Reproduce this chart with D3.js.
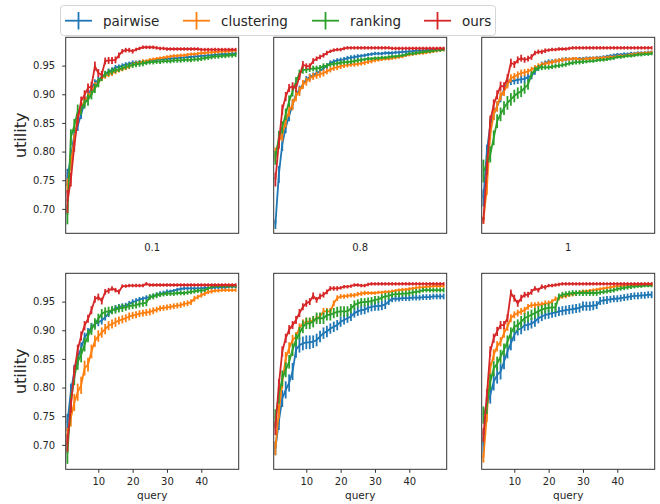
<!DOCTYPE html>
<html>
<head>
<meta charset="utf-8">
<script src="https://cdn.jsdelivr.net/npm/d3@7"></script>
<style>
  body { margin: 0; background: #fff; }
  svg { display: block; font-family: "DejaVu Sans", sans-serif; }
</style>
</head>
<body>
<div id="chart"></div>
<script>
// series names and colours
const methods = ["pairwise", "clustering", "ranking", "ours"];
const colors = ["#1f77b4", "#ff7f0e", "#2ca02c", "#d62728"];

// query index (x values)
const query = [1,2,3,4,5,6,7,8,9,10,11,12,13,14,15,16,17,18,19,20,21,22,23,24,25,
  26,27,28,29,30,31,32,33,34,35,36,37,38,39,40,41,42,43,44,45,46,47,48,49,50];

const panelLabels = ["0.1", "0.8", "1"];
const xTicks = [10, 20, 30, 40];
const yTicks = [0.70, 0.75, 0.80, 0.85, 0.90, 0.95];

// ---- panel 1 (0.1) ----
const p1_pairwise = [0.755,0.790,0.830,0.845,0.865,0.885,0.898,0.910,0.920,0.925,0.930,0.935,0.940,0.942,0.947,0.948,0.950,0.952,0.953,0.955,0.955,0.956,0.957,0.957,0.958,0.959,0.960,0.961,0.961,0.962,0.962,0.963,0.963,0.964,0.964,0.965,0.965,0.966,0.966,0.967,0.967,0.968,0.968,0.969,0.969,0.970,0.970,0.970,0.971,0.971];
const p1_clustering = [0.740,0.780,0.820,0.860,0.875,0.890,0.895,0.905,0.915,0.920,0.928,0.932,0.935,0.937,0.940,0.942,0.944,0.946,0.948,0.952,0.954,0.955,0.957,0.958,0.960,0.961,0.962,0.963,0.964,0.965,0.966,0.967,0.967,0.968,0.968,0.969,0.970,0.970,0.971,0.972,0.972,0.973,0.973,0.974,0.974,0.975,0.975,0.975,0.976,0.976];
const p1_ranking = [0.690,0.825,0.845,0.870,0.875,0.885,0.890,0.900,0.910,0.920,0.930,0.935,0.938,0.940,0.942,0.944,0.946,0.948,0.950,0.951,0.952,0.953,0.954,0.955,0.956,0.956,0.957,0.957,0.958,0.958,0.958,0.959,0.959,0.959,0.960,0.960,0.960,0.961,0.961,0.962,0.963,0.964,0.965,0.966,0.966,0.967,0.967,0.968,0.968,0.969];
const p1_ours = [0.713,0.751,0.810,0.856,0.888,0.899,0.911,0.914,0.949,0.937,0.934,0.958,0.959,0.959,0.960,0.968,0.975,0.977,0.977,0.975,0.978,0.980,0.982,0.982,0.982,0.982,0.981,0.980,0.980,0.979,0.979,0.979,0.979,0.979,0.979,0.979,0.979,0.979,0.979,0.978,0.978,0.978,0.978,0.978,0.978,0.978,0.978,0.978,0.978,0.978];
const p1_pairwise_err = [0.015,0.012,0.010,0.009,0.008,0.007,0.007,0.006,0.006,0.006,0.005,0.005,0.005,0.005,0.004,0.004,0.004,0.004,0.004,0.004,0.004,0.004,0.003,0.003,0.003,0.003,0.003,0.003,0.003,0.003,0.003,0.003,0.003,0.003,0.003,0.003,0.003,0.003,0.003,0.003,0.003,0.003,0.003,0.003,0.003,0.003,0.003,0.003,0.003,0.003];
const p1_clustering_err = [0.012,0.012,0.010,0.009,0.008,0.008,0.007,0.007,0.006,0.006,0.005,0.005,0.005,0.005,0.005,0.004,0.004,0.004,0.004,0.004,0.004,0.004,0.004,0.003,0.003,0.003,0.003,0.003,0.003,0.003,0.003,0.003,0.003,0.003,0.003,0.003,0.003,0.003,0.003,0.003,0.003,0.003,0.003,0.003,0.003,0.003,0.003,0.003,0.003,0.003];
const p1_ranking_err = [0.017,0.014,0.012,0.012,0.011,0.010,0.010,0.009,0.008,0.008,0.007,0.006,0.006,0.006,0.005,0.005,0.005,0.005,0.005,0.005,0.005,0.005,0.005,0.004,0.004,0.004,0.004,0.004,0.004,0.004,0.004,0.004,0.004,0.004,0.004,0.004,0.004,0.004,0.004,0.004,0.004,0.004,0.004,0.004,0.004,0.004,0.004,0.004,0.004,0.004];
const p1_ours_err = [0.020,0.012,0.010,0.009,0.008,0.008,0.008,0.008,0.008,0.007,0.007,0.006,0.006,0.006,0.006,0.005,0.004,0.004,0.004,0.004,0.003,0.003,0.003,0.003,0.003,0.003,0.003,0.003,0.003,0.003,0.003,0.003,0.003,0.003,0.003,0.003,0.003,0.003,0.003,0.003,0.003,0.003,0.003,0.003,0.003,0.003,0.003,0.003,0.003,0.003];

// ---- panel 2 (0.8) ----
const p2_pairwise = [0.673,0.760,0.813,0.842,0.862,0.882,0.900,0.908,0.917,0.926,0.930,0.933,0.937,0.940,0.946,0.949,0.955,0.957,0.959,0.960,0.961,0.963,0.964,0.965,0.966,0.967,0.968,0.969,0.970,0.971,0.971,0.971,0.972,0.972,0.972,0.973,0.973,0.974,0.974,0.975,0.975,0.976,0.976,0.976,0.977,0.977,0.978,0.978,0.979,0.979];
const p2_clustering = [0.795,0.818,0.830,0.853,0.871,0.882,0.897,0.905,0.917,0.922,0.928,0.931,0.933,0.935,0.937,0.940,0.943,0.946,0.947,0.949,0.950,0.951,0.952,0.952,0.953,0.954,0.955,0.957,0.958,0.960,0.960,0.961,0.962,0.962,0.963,0.964,0.965,0.966,0.968,0.969,0.970,0.971,0.972,0.972,0.973,0.974,0.975,0.976,0.977,0.978];
const p2_ranking = [0.789,0.824,0.842,0.865,0.888,0.905,0.922,0.936,0.942,0.943,0.944,0.945,0.945,0.946,0.949,0.950,0.952,0.953,0.954,0.955,0.956,0.956,0.957,0.958,0.959,0.960,0.961,0.962,0.962,0.963,0.963,0.964,0.964,0.965,0.966,0.966,0.967,0.968,0.969,0.971,0.971,0.972,0.973,0.974,0.975,0.975,0.976,0.977,0.977,0.978];
const p2_ours = [0.751,0.815,0.873,0.896,0.911,0.914,0.911,0.931,0.952,0.949,0.949,0.958,0.962,0.965,0.968,0.972,0.975,0.977,0.978,0.978,0.980,0.981,0.981,0.981,0.981,0.981,0.981,0.981,0.981,0.981,0.981,0.981,0.981,0.981,0.980,0.980,0.980,0.980,0.980,0.980,0.980,0.980,0.980,0.980,0.980,0.980,0.980,0.980,0.980,0.980];
const p2_pairwise_err = [0.008,0.015,0.012,0.010,0.009,0.008,0.007,0.007,0.006,0.006,0.006,0.005,0.005,0.005,0.005,0.005,0.004,0.004,0.004,0.004,0.004,0.004,0.004,0.004,0.004,0.003,0.003,0.003,0.003,0.003,0.003,0.003,0.003,0.003,0.003,0.003,0.003,0.003,0.003,0.003,0.003,0.003,0.003,0.003,0.003,0.003,0.003,0.003,0.003,0.003];
const p2_clustering_err = [0.012,0.012,0.012,0.011,0.010,0.010,0.009,0.008,0.008,0.007,0.007,0.006,0.006,0.006,0.006,0.005,0.005,0.005,0.005,0.005,0.004,0.004,0.004,0.004,0.004,0.004,0.004,0.004,0.004,0.004,0.003,0.003,0.003,0.003,0.003,0.003,0.003,0.003,0.003,0.003,0.003,0.003,0.003,0.003,0.003,0.003,0.003,0.003,0.003,0.003];
const p2_ranking_err = [0.012,0.012,0.011,0.010,0.010,0.009,0.008,0.007,0.006,0.006,0.005,0.005,0.005,0.005,0.005,0.004,0.004,0.004,0.004,0.004,0.004,0.004,0.004,0.004,0.004,0.004,0.003,0.003,0.003,0.003,0.003,0.003,0.003,0.003,0.003,0.003,0.003,0.003,0.003,0.003,0.003,0.003,0.003,0.003,0.003,0.003,0.003,0.003,0.003,0.003];
const p2_ours_err = [0.012,0.010,0.009,0.008,0.007,0.007,0.007,0.006,0.006,0.005,0.005,0.005,0.004,0.004,0.004,0.004,0.003,0.003,0.003,0.003,0.003,0.003,0.003,0.003,0.003,0.003,0.003,0.003,0.003,0.003,0.003,0.003,0.003,0.003,0.003,0.003,0.003,0.003,0.003,0.003,0.003,0.003,0.003,0.003,0.003,0.003,0.003,0.003,0.003,0.003];

// ---- panel 3 (1) ----
const p3_pairwise = [0.719,0.800,0.847,0.865,0.879,0.894,0.908,0.920,0.923,0.924,0.925,0.926,0.927,0.930,0.932,0.940,0.946,0.952,0.955,0.957,0.957,0.958,0.959,0.960,0.961,0.961,0.962,0.962,0.962,0.962,0.963,0.963,0.963,0.964,0.964,0.965,0.966,0.967,0.968,0.969,0.969,0.970,0.970,0.971,0.971,0.972,0.972,0.972,0.973,0.973];
const p3_clustering = [0.680,0.736,0.830,0.865,0.879,0.897,0.905,0.917,0.928,0.931,0.934,0.937,0.938,0.940,0.943,0.946,0.949,0.952,0.953,0.955,0.956,0.958,0.959,0.960,0.961,0.961,0.962,0.962,0.961,0.961,0.962,0.962,0.963,0.963,0.963,0.964,0.964,0.965,0.965,0.966,0.967,0.967,0.968,0.969,0.970,0.971,0.971,0.972,0.972,0.973];
const p3_ranking = [0.766,0.777,0.795,0.824,0.853,0.865,0.876,0.885,0.891,0.897,0.902,0.905,0.911,0.917,0.934,0.943,0.946,0.947,0.947,0.947,0.948,0.949,0.950,0.951,0.952,0.954,0.955,0.956,0.956,0.957,0.957,0.958,0.958,0.959,0.960,0.960,0.961,0.962,0.963,0.965,0.965,0.966,0.967,0.967,0.968,0.969,0.969,0.970,0.970,0.971];
const p3_ours = [0.680,0.771,0.853,0.882,0.899,0.914,0.914,0.928,0.955,0.952,0.960,0.963,0.960,0.962,0.965,0.972,0.974,0.974,0.976,0.977,0.978,0.978,0.979,0.979,0.979,0.980,0.981,0.981,0.981,0.981,0.981,0.981,0.981,0.981,0.981,0.981,0.981,0.981,0.981,0.981,0.981,0.981,0.981,0.981,0.981,0.981,0.981,0.981,0.981,0.981];
const p3_pairwise_err = [0.015,0.012,0.011,0.010,0.009,0.008,0.008,0.007,0.007,0.007,0.007,0.007,0.007,0.007,0.006,0.006,0.005,0.005,0.004,0.004,0.004,0.004,0.004,0.004,0.004,0.003,0.003,0.003,0.003,0.003,0.003,0.003,0.003,0.003,0.003,0.003,0.003,0.003,0.003,0.003,0.003,0.003,0.003,0.003,0.003,0.003,0.003,0.003,0.003,0.003];
const p3_clustering_err = [0.006,0.012,0.010,0.010,0.009,0.008,0.008,0.007,0.007,0.006,0.006,0.006,0.006,0.005,0.005,0.005,0.005,0.004,0.004,0.004,0.004,0.004,0.004,0.004,0.003,0.003,0.003,0.003,0.003,0.003,0.003,0.003,0.003,0.003,0.003,0.003,0.003,0.003,0.003,0.003,0.003,0.003,0.003,0.003,0.003,0.003,0.003,0.003,0.003,0.003];
const p3_ranking_err = [0.020,0.015,0.014,0.013,0.012,0.012,0.012,0.012,0.011,0.011,0.010,0.010,0.010,0.009,0.006,0.005,0.005,0.005,0.004,0.004,0.004,0.004,0.004,0.004,0.004,0.004,0.004,0.004,0.004,0.004,0.003,0.003,0.003,0.003,0.003,0.003,0.003,0.003,0.003,0.003,0.003,0.003,0.003,0.003,0.003,0.003,0.003,0.003,0.003,0.003];
const p3_ours_err = [0.006,0.012,0.010,0.009,0.008,0.008,0.007,0.007,0.007,0.006,0.006,0.006,0.005,0.005,0.005,0.004,0.004,0.004,0.004,0.003,0.003,0.003,0.003,0.003,0.003,0.003,0.003,0.003,0.003,0.003,0.003,0.003,0.003,0.003,0.003,0.003,0.003,0.003,0.003,0.003,0.003,0.003,0.003,0.003,0.003,0.003,0.003,0.003,0.003,0.003];

// ---- panel 4 ----
const p4_pairwise = [0.739,0.792,0.828,0.851,0.869,0.887,0.896,0.905,0.911,0.914,0.917,0.923,0.929,0.935,0.938,0.941,0.942,0.943,0.946,0.949,0.951,0.954,0.955,0.957,0.958,0.960,0.962,0.964,0.965,0.967,0.968,0.969,0.971,0.972,0.973,0.973,0.973,0.973,0.973,0.973,0.974,0.974,0.974,0.975,0.975,0.975,0.975,0.976,0.976,0.976];
const p4_clustering = [0.715,0.747,0.774,0.792,0.804,0.834,0.840,0.863,0.881,0.890,0.896,0.902,0.908,0.911,0.914,0.917,0.919,0.921,0.924,0.926,0.927,0.929,0.930,0.931,0.932,0.934,0.936,0.938,0.939,0.940,0.941,0.942,0.943,0.944,0.946,0.947,0.949,0.955,0.958,0.961,0.964,0.967,0.968,0.969,0.969,0.970,0.970,0.970,0.970,0.970];
const p4_ranking = [0.685,0.774,0.819,0.845,0.857,0.875,0.890,0.902,0.911,0.920,0.929,0.932,0.933,0.935,0.936,0.938,0.939,0.940,0.942,0.943,0.944,0.946,0.947,0.948,0.958,0.959,0.961,0.962,0.963,0.964,0.964,0.964,0.965,0.965,0.965,0.966,0.967,0.968,0.969,0.969,0.970,0.973,0.976,0.977,0.977,0.977,0.977,0.977,0.977,0.977];
const p4_ours = [0.703,0.768,0.828,0.866,0.890,0.908,0.920,0.935,0.954,0.958,0.951,0.967,0.969,0.973,0.970,0.967,0.977,0.977,0.978,0.978,0.978,0.978,0.978,0.981,0.979,0.979,0.979,0.979,0.979,0.979,0.979,0.979,0.979,0.979,0.979,0.979,0.979,0.979,0.979,0.979,0.979,0.979,0.979,0.979,0.979,0.979,0.979,0.979,0.979,0.979];
const p4_pairwise_err = [0.015,0.015,0.012,0.012,0.010,0.009,0.008,0.008,0.007,0.007,0.007,0.006,0.006,0.006,0.006,0.005,0.005,0.005,0.005,0.005,0.005,0.004,0.004,0.004,0.004,0.004,0.004,0.004,0.004,0.004,0.003,0.003,0.003,0.003,0.003,0.003,0.003,0.003,0.003,0.003,0.003,0.003,0.003,0.003,0.003,0.003,0.003,0.003,0.003,0.003];
const p4_clustering_err = [0.015,0.015,0.015,0.015,0.015,0.013,0.012,0.012,0.010,0.010,0.009,0.009,0.008,0.008,0.008,0.007,0.007,0.007,0.007,0.006,0.006,0.006,0.006,0.006,0.006,0.006,0.005,0.005,0.005,0.005,0.005,0.005,0.005,0.005,0.005,0.005,0.005,0.005,0.004,0.004,0.004,0.004,0.004,0.003,0.003,0.003,0.003,0.003,0.003,0.003];
const p4_ranking_err = [0.018,0.016,0.015,0.014,0.013,0.012,0.011,0.010,0.010,0.009,0.008,0.008,0.008,0.007,0.007,0.007,0.007,0.006,0.006,0.006,0.006,0.006,0.006,0.006,0.005,0.005,0.005,0.004,0.004,0.004,0.004,0.004,0.004,0.004,0.004,0.004,0.004,0.004,0.004,0.004,0.003,0.003,0.003,0.003,0.003,0.003,0.003,0.003,0.003,0.003];
const p4_ours_err = [0.015,0.012,0.010,0.009,0.008,0.008,0.007,0.007,0.006,0.006,0.006,0.005,0.005,0.004,0.004,0.004,0.003,0.003,0.003,0.003,0.003,0.003,0.003,0.003,0.003,0.003,0.003,0.003,0.003,0.003,0.003,0.003,0.003,0.003,0.003,0.003,0.003,0.003,0.003,0.003,0.003,0.003,0.003,0.003,0.003,0.003,0.003,0.003,0.003,0.003];

// ---- panel 5 ----
const p5_pairwise = [0.694,0.741,0.781,0.796,0.808,0.828,0.866,0.874,0.877,0.879,0.879,0.880,0.883,0.889,0.895,0.898,0.903,0.906,0.909,0.915,0.918,0.921,0.924,0.930,0.933,0.935,0.936,0.939,0.941,0.942,0.942,0.943,0.945,0.950,0.955,0.955,0.955,0.956,0.956,0.956,0.957,0.957,0.957,0.958,0.958,0.958,0.959,0.959,0.959,0.959];
const p5_clustering = [0.694,0.758,0.810,0.851,0.869,0.883,0.889,0.904,0.912,0.915,0.915,0.918,0.921,0.924,0.933,0.933,0.933,0.947,0.956,0.959,0.959,0.960,0.961,0.961,0.963,0.964,0.965,0.965,0.965,0.965,0.966,0.966,0.967,0.967,0.968,0.969,0.970,0.971,0.971,0.972,0.973,0.974,0.975,0.975,0.976,0.976,0.977,0.977,0.977,0.977];
const p5_ranking = [0.747,0.787,0.816,0.831,0.845,0.866,0.883,0.895,0.906,0.912,0.912,0.915,0.921,0.921,0.921,0.927,0.927,0.930,0.932,0.933,0.933,0.933,0.938,0.944,0.947,0.949,0.949,0.950,0.951,0.953,0.954,0.957,0.959,0.960,0.962,0.963,0.963,0.964,0.964,0.965,0.966,0.967,0.968,0.970,0.970,0.970,0.970,0.970,0.970,0.970];
const p5_ours = [0.729,0.805,0.863,0.886,0.901,0.909,0.918,0.930,0.941,0.947,0.950,0.960,0.953,0.959,0.962,0.967,0.973,0.973,0.973,0.974,0.976,0.976,0.977,0.979,0.979,0.978,0.978,0.980,0.981,0.981,0.981,0.981,0.981,0.981,0.981,0.981,0.981,0.981,0.981,0.981,0.981,0.981,0.981,0.981,0.981,0.981,0.981,0.981,0.981,0.981];
const p5_pairwise_err = [0.012,0.015,0.015,0.015,0.015,0.015,0.014,0.013,0.012,0.012,0.012,0.011,0.011,0.010,0.010,0.010,0.009,0.009,0.009,0.009,0.008,0.008,0.008,0.008,0.008,0.008,0.008,0.008,0.008,0.008,0.008,0.008,0.008,0.006,0.006,0.005,0.005,0.005,0.005,0.005,0.005,0.005,0.005,0.005,0.005,0.005,0.005,0.005,0.005,0.005];
const p5_clustering_err = [0.012,0.012,0.012,0.011,0.010,0.009,0.008,0.008,0.007,0.007,0.007,0.006,0.006,0.006,0.006,0.006,0.006,0.005,0.005,0.004,0.004,0.004,0.004,0.004,0.004,0.004,0.004,0.003,0.003,0.003,0.003,0.003,0.003,0.003,0.003,0.003,0.003,0.003,0.003,0.003,0.003,0.003,0.003,0.003,0.003,0.003,0.003,0.003,0.003,0.003];
const p5_ranking_err = [0.015,0.015,0.014,0.013,0.012,0.011,0.011,0.011,0.011,0.010,0.010,0.010,0.010,0.010,0.010,0.010,0.010,0.009,0.009,0.009,0.009,0.009,0.008,0.008,0.007,0.007,0.007,0.007,0.007,0.007,0.006,0.006,0.006,0.006,0.005,0.005,0.005,0.005,0.005,0.005,0.005,0.005,0.004,0.004,0.004,0.004,0.004,0.004,0.004,0.004];
const p5_ours_err = [0.012,0.010,0.009,0.008,0.008,0.007,0.007,0.007,0.006,0.006,0.006,0.006,0.005,0.005,0.005,0.004,0.004,0.004,0.004,0.003,0.003,0.003,0.003,0.003,0.003,0.003,0.003,0.003,0.003,0.003,0.003,0.003,0.003,0.003,0.003,0.003,0.003,0.003,0.003,0.003,0.003,0.003,0.003,0.003,0.003,0.003,0.003,0.003,0.003,0.003];

// ---- panel 6 ----
const p6_pairwise = [0.700,0.770,0.787,0.810,0.822,0.828,0.845,0.863,0.877,0.892,0.901,0.903,0.909,0.909,0.912,0.915,0.921,0.924,0.927,0.928,0.930,0.931,0.933,0.934,0.935,0.936,0.937,0.938,0.939,0.942,0.942,0.942,0.943,0.944,0.951,0.952,0.953,0.954,0.955,0.955,0.956,0.957,0.958,0.959,0.960,0.960,0.961,0.961,0.962,0.962];
const p6_clustering = [0.677,0.752,0.834,0.857,0.872,0.880,0.895,0.906,0.921,0.927,0.930,0.933,0.935,0.941,0.944,0.944,0.945,0.945,0.947,0.947,0.950,0.955,0.956,0.959,0.960,0.962,0.963,0.964,0.966,0.968,0.968,0.969,0.970,0.971,0.972,0.973,0.974,0.975,0.976,0.977,0.977,0.978,0.978,0.978,0.979,0.979,0.979,0.980,0.980,0.980];
const p6_ranking = [0.752,0.769,0.810,0.833,0.842,0.854,0.866,0.880,0.895,0.906,0.909,0.915,0.921,0.924,0.927,0.930,0.933,0.936,0.938,0.939,0.940,0.940,0.959,0.962,0.963,0.964,0.965,0.965,0.965,0.965,0.965,0.965,0.965,0.965,0.966,0.967,0.968,0.969,0.970,0.972,0.973,0.974,0.975,0.976,0.976,0.977,0.977,0.978,0.978,0.978];
const p6_ours = [0.717,0.787,0.863,0.886,0.898,0.909,0.909,0.921,0.965,0.956,0.947,0.956,0.962,0.962,0.967,0.973,0.970,0.976,0.975,0.978,0.978,0.979,0.980,0.981,0.981,0.981,0.981,0.981,0.981,0.981,0.981,0.981,0.981,0.981,0.981,0.981,0.981,0.981,0.981,0.981,0.981,0.981,0.981,0.981,0.981,0.981,0.981,0.981,0.981,0.981];
const p6_pairwise_err = [0.015,0.015,0.015,0.015,0.015,0.014,0.013,0.012,0.012,0.011,0.010,0.010,0.010,0.009,0.009,0.009,0.009,0.008,0.008,0.008,0.008,0.008,0.008,0.008,0.008,0.008,0.008,0.008,0.008,0.008,0.008,0.008,0.008,0.007,0.007,0.007,0.007,0.006,0.006,0.006,0.006,0.006,0.006,0.006,0.006,0.006,0.006,0.006,0.006,0.006];
const p6_clustering_err = [0.008,0.012,0.010,0.010,0.009,0.008,0.008,0.007,0.007,0.006,0.006,0.006,0.006,0.005,0.005,0.005,0.005,0.005,0.005,0.005,0.004,0.004,0.004,0.004,0.004,0.004,0.004,0.004,0.003,0.003,0.003,0.003,0.003,0.003,0.003,0.003,0.003,0.003,0.003,0.003,0.003,0.003,0.003,0.003,0.003,0.003,0.003,0.003,0.003,0.003];
const p6_ranking_err = [0.015,0.015,0.014,0.013,0.012,0.012,0.011,0.011,0.010,0.010,0.010,0.010,0.009,0.009,0.009,0.009,0.009,0.008,0.008,0.008,0.008,0.008,0.005,0.005,0.005,0.005,0.005,0.005,0.005,0.005,0.005,0.005,0.005,0.005,0.004,0.004,0.004,0.004,0.004,0.004,0.004,0.004,0.004,0.004,0.003,0.003,0.003,0.003,0.003,0.003];
const p6_ours_err = [0.012,0.010,0.009,0.008,0.008,0.007,0.007,0.007,0.006,0.006,0.006,0.006,0.005,0.005,0.005,0.004,0.004,0.004,0.004,0.003,0.003,0.003,0.003,0.003,0.003,0.003,0.003,0.003,0.003,0.003,0.003,0.003,0.003,0.003,0.003,0.003,0.003,0.003,0.003,0.003,0.003,0.003,0.003,0.003,0.003,0.003,0.003,0.003,0.003,0.003];

const panels = [
  { vals: [p1_pairwise, p1_clustering, p1_ranking, p1_ours], errs: [p1_pairwise_err, p1_clustering_err, p1_ranking_err, p1_ours_err] },
  { vals: [p2_pairwise, p2_clustering, p2_ranking, p2_ours], errs: [p2_pairwise_err, p2_clustering_err, p2_ranking_err, p2_ours_err] },
  { vals: [p3_pairwise, p3_clustering, p3_ranking, p3_ours], errs: [p3_pairwise_err, p3_clustering_err, p3_ranking_err, p3_ours_err] },
  { vals: [p4_pairwise, p4_clustering, p4_ranking, p4_ours], errs: [p4_pairwise_err, p4_clustering_err, p4_ranking_err, p4_ours_err] },
  { vals: [p5_pairwise, p5_clustering, p5_ranking, p5_ours], errs: [p5_pairwise_err, p5_clustering_err, p5_ranking_err, p5_ours_err] },
  { vals: [p6_pairwise, p6_clustering, p6_ranking, p6_ours], errs: [p6_pairwise_err, p6_clustering_err, p6_ranking_err, p6_ours_err] }
];

const width = 660, height = 504;
const pw = 173, ph = 196;
const left0 = 65.7, top0 = 37.3, dx = 208, dy = 236;

const svg = d3.select("#chart").append("svg")
  .attr("width", width)
  .attr("height", height);

// shared scales
const x = d3.scaleLinear().domain([0.5, 50.9]).range([0, pw]);
const y = d3.scaleLinear().domain([0.6574, 0.9994]).range([ph, 0]);

const line = d3.line().x(d => x(d[0])).y(d => y(d[1]));

panels.forEach((p, i) => {
  const row = Math.floor(i / 3), col = i % 3;
  const g = svg.append("g")
    .attr("transform", `translate(${left0 + col * dx},${top0 + row * dy})`);

  // series: line then error bars
  p.vals.forEach((vals, s) => {
    const pts = query.map((q, k) => [q, vals[k], p.errs[s][k]]);
    const sg = g.append("g");
    sg.append("path")
      .datum(pts)
      .attr("d", line)
      .attr("fill", "none")
      .attr("stroke", colors[s])
      .attr("stroke-width", 1.8);
    sg.selectAll("line")
      .data(pts)
      .join("line")
      .attr("x1", d => x(d[0])).attr("x2", d => x(d[0]))
      .attr("y1", d => y(d[1] - d[2])).attr("y2", d => y(d[1] + d[2]))
      .attr("stroke", colors[s])
      .attr("stroke-width", 1.8);
  });

  // frame
  g.append("rect")
    .attr("x", 0).attr("y", 0).attr("width", pw).attr("height", ph)
    .attr("fill", "none").attr("stroke", "#333").attr("stroke-width", 1);

  if (col === 0) {
    const ay = g.append("g")
      .call(d3.axisLeft(y).tickValues(yTicks).tickFormat(d3.format(".2f"))
        .tickSize(3.5).tickPadding(7));
    ay.select(".domain").remove();
    ay.selectAll("line").attr("stroke", "#333");
    ay.selectAll("text").attr("font-size", 10).attr("fill", "#262626")
      .attr("font-family", "DejaVu Sans");
    g.append("text")
      .attr("transform", `translate(${26 - left0},${ph / 2}) rotate(-90)`)
      .attr("text-anchor", "middle")
      .attr("font-size", 16)
      .attr("fill", "#262626")
      .text("utility");
  }

  if (row === 0) {
    g.append("text")
      .attr("x", pw / 2).attr("y", ph + 17.5)
      .attr("text-anchor", "middle")
      .attr("font-size", 10)
      .attr("fill", "#262626")
      .text(panelLabels[col]);
  } else {
    const ax = g.append("g")
      .attr("transform", `translate(0,${ph})`)
      .call(d3.axisBottom(x).tickValues(xTicks).tickSize(3.5).tickPadding(5));
    ax.select(".domain").remove();
    ax.selectAll("line").attr("stroke", "#333");
    ax.selectAll("text").attr("font-size", 10).attr("fill", "#262626")
      .attr("font-family", "DejaVu Sans");
    g.append("text")
      .attr("x", pw / 2).attr("y", ph + 29.5)
      .attr("text-anchor", "middle")
      .attr("font-size", 10.5)
      .attr("fill", "#262626")
      .text("query");
  }
});

// legend
const legend = svg.append("g");
legend.append("rect")
  .attr("x", 60.5).attr("y", 5.5).attr("width", 435).attr("height", 30)
  .attr("rx", 3)
  .attr("fill", "#fff").attr("fill-opacity", 0.8)
  .attr("stroke", "#d5d5d5").attr("stroke-width", 1);

const legendX = [65, 183, 312, 424];
methods.forEach((m, i) => {
  const lg = legend.append("g").attr("transform", `translate(${legendX[i]},0)`);
  lg.append("line").attr("x1", 0).attr("x2", 27).attr("y1", 20.7).attr("y2", 20.7)
    .attr("stroke", colors[i]).attr("stroke-width", 1.8);
  lg.append("line").attr("x1", 13.5).attr("x2", 13.5).attr("y1", 12).attr("y2", 29.5)
    .attr("stroke", colors[i]).attr("stroke-width", 1.8);
  lg.append("text")
    .attr("x", 38).attr("y", 25.5)
    .attr("font-size", 13.5)
    .attr("fill", "#262626")
    .text(m);
});
</script>
</body>
</html>
